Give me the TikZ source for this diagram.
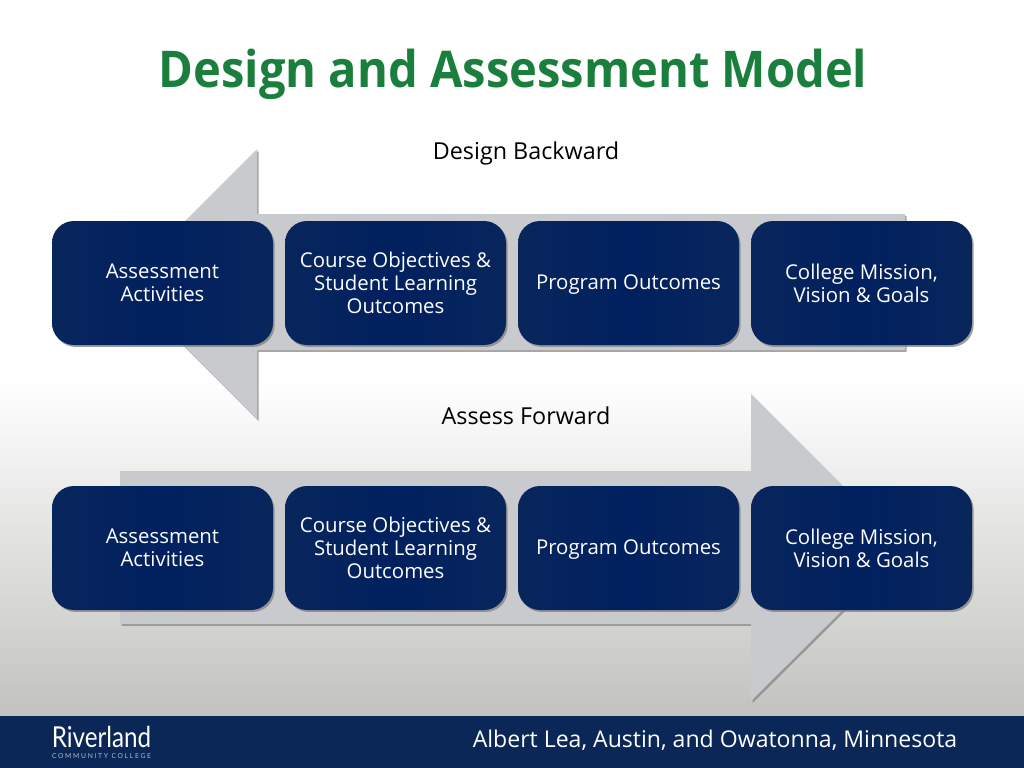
\documentclass[tikz,border=0pt]{standalone}
\usepackage{fontspec}
\setmainfont{Open Sans}
\newfontfamily\titlefont[FakeStretch=0.93]{Open Sans}
\newfontfamily\logofont[FakeStretch=0.84]{Lato}
\newfontfamily\logosubfont[LetterSpace=25]{Lato}
\usetikzlibrary{shadows}
\definecolor{navyband}{HTML}{0A2757}
\definecolor{navybox}{HTML}{00205F}
\definecolor{navyedge}{HTML}{08265C}
\definecolor{titlegreen}{HTML}{1A7F3C}
\definecolor{arrowgrey}{HTML}{C9CACE}
\definecolor{floorgrey}{HTML}{C2C2C0}
\tikzset{
    stagebox/.style={minimum width=221*0.025cm, minimum height=124*0.025cm, rounded corners=0.55cm,
        left color=navyedge, right color=navyedge, middle color=navybox, text=white,
        align=center, font=\fontsize{14.5}{16.4}\selectfont,
        drop shadow={shadow xshift=1.2pt, shadow yshift=-1.4pt, opacity=0.75}},
    bigarrow/.style={fill=arrowgrey, drop shadow={shadow xshift=1.2pt, shadow yshift=-1.4pt, opacity=0.7}},
    heading/.style={text=black, font=\fontsize{16.6}{18}\selectfont}
}
\begin{document}
\begin{tikzpicture}[x=0.025cm, y=-0.025cm]
    \useasboundingbox (0,0) rectangle (1024,768);
    \fill[white] (0,0) rectangle (1024,380);
    \shade[top color=white, bottom color=floorgrey] (0,380) rectangle (1024,716);

    \node (title) at (513,74) [text=titlegreen, font=\fontsize{36}{40}\titlefont\bfseries] {Design and Assessment Model};

    % arrows behind the boxes
    \path[bigarrow] (905,214) -- (257,214) -- (257,149) -- (122,284) -- (257,419) -- (257,350) -- (905,350) -- cycle;
    \path[bigarrow] (120,471) -- (751,471) -- (751,394) -- (905,548) -- (751,701) -- (751,624) -- (120,624) -- cycle;

    \node (backward) at (526,153) [heading] {Design Backward};
    \node (forward) at (526,416) [heading] {Assess Forward};

    \foreach \r/\y in {top/283, low/548} {
        \node (activities\r) at (162.5,\y) [stagebox] {Assessment\\Activities};
        \node (objectives\r) at (395.5,\y) [stagebox] {Course Objectives \&\\Student Learning\\Outcomes};
        \node (outcomes\r) at (628.5,\y) [stagebox] {\rule{0pt}{13.2pt}Program Outcomes};
        \node (mission\r) at (861.5,\y) [stagebox] {College Mission,\\Vision \& Goals};
    }

    \fill[navyband] (0,716) rectangle (1024,768);
    \node (towns) at (715,740) [text=white, font=\fontsize{16.4}{18}\selectfont] {Albert Lea, Austin, and Owatonna, Minnesota};
    \node (logo) at (101.5,737) [inner sep=0pt, text=white, font=\fontsize{20.5}{22}\logofont] {Riverland};
    \node (logosub) at (101.5,756) [inner sep=0pt, text=white!70!navyband, font=\fontsize{4.8}{5}\logosubfont] {COMMUNITY COLLEGE};
\end{tikzpicture}
\end{document}
